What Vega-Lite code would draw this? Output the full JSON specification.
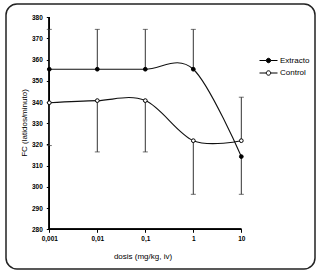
{
  "$schema": "https://vega.github.io/schema/vega-lite/v6.json",
  "width": 309,
  "height": 265,
  "autosize": {"type": "none"},
  "padding": {"left": 6, "top": 4, "right": 9, "bottom": 9},
  "background": "white",
  "config": {
    "view": {"stroke": "#222", "strokeWidth": 1.5, "cornerRadius": 11},
    "font": "Liberation Sans",
    "axis": {
      "domain": false,
      "grid": false,
      "tickColor": "black",
      "tickSize": 3,
      "labelColor": "black",
      "labelFont": "Liberation Sans",
      "labelFontWeight": "bold",
      "titleFont": "Liberation Sans",
      "titleFontWeight": "normal",
      "titleColor": "black",
      "titleFontSize": 8
    }
  },
  "data": {
    "values": [
      {"dosis": 0.001, "serie": "Extracto", "fc": 355.5, "fin": 374.3},
      {"dosis": 0.01, "serie": "Extracto", "fc": 355.5, "fin": 374.3},
      {"dosis": 0.1, "serie": "Extracto", "fc": 355.5, "fin": 374.3},
      {"dosis": 1, "serie": "Extracto", "fc": 355.5, "fin": 374.3},
      {"dosis": 10, "serie": "Extracto", "fc": 314.3, "fin": 296.5},
      {"dosis": 0.001, "serie": "Control", "fc": 339.7, "fin": 319.5},
      {"dosis": 0.01, "serie": "Control", "fc": 340.7, "fin": 316.5},
      {"dosis": 0.1, "serie": "Control", "fc": 340.7, "fin": 316.5},
      {"dosis": 1, "serie": "Control", "fc": 321.8, "fin": 296.5},
      {"dosis": 10, "serie": "Control", "fc": 321.8, "fin": 342.3}
    ]
  },
  "encoding": {
    "x": {
      "field": "dosis",
      "type": "quantitative",
      "scale": {"type": "log", "domain": [0.0001253, 342.8], "nice": false, "zero": false},
      "axis": {
        "orient": "bottom",
        "offset": -39.7,
        "values": [0.001, 0.01, 0.1, 1, 10],
        "labelExpr": "replace(format(datum.value, '~g'), '.', ',')",
        "labelFontSize": 6.5,
        "labelPadding": 3,
        "title": "dosis (mg/kg, iv)",
        "titleX": 136.5,
        "titleY": 27.4,
        "titleBaseline": "middle",
        "titleAlign": "center"
      }
    },
    "y": {
      "field": "fc",
      "type": "quantitative",
      "scale": {"domain": [261.27, 386.27], "nice": false, "zero": false},
      "axis": {
        "orient": "left",
        "offset": -43.3,
        "values": [280, 290, 300, 310, 320, 330, 340, 350, 360, 370, 380],
        "format": "d",
        "labelFontSize": 6.5,
        "labelPadding": 4,
        "title": "FC (latidos/minuto)",
        "titleX": -25,
        "titleY": 118.5,
        "titleBaseline": "middle",
        "titleAlign": "center",
        "titleAngle": -90
      }
    }
  },
  "layer": [
    {
      "mark": {"type": "rule", "color": "black", "strokeWidth": 1},
      "encoding": {
        "x": {"datum": 0.001, "type": "quantitative"},
        "y": {"datum": 280, "type": "quantitative"},
        "y2": {"datum": 380}
      }
    },
    {
      "mark": {"type": "rule", "color": "black", "strokeWidth": 1},
      "encoding": {
        "x": {"datum": 0.001, "type": "quantitative"},
        "x2": {"datum": 10},
        "y": {"datum": 280, "type": "quantitative"}
      }
    },
    {
      "mark": {"type": "rule", "color": "#333", "strokeWidth": 1},
      "encoding": {
        "y2": {"field": "fin"}
      }
    },
    {
      "mark": {"type": "tick", "orient": "horizontal", "color": "#333", "size": 5, "thickness": 1},
      "encoding": {
        "y": {"field": "fin", "type": "quantitative"}
      }
    },
    {
      "mark": {"type": "line", "interpolate": "cardinal", "strokeWidth": 1.1, "color": "#111"},
      "encoding": {
        "detail": {"field": "serie", "type": "nominal"}
      }
    },
    {
      "mark": {"type": "point", "filled": true, "stroke": "black", "strokeWidth": 1, "size": 14, "opacity": 1},
      "encoding": {
        "fill": {
          "field": "serie",
          "type": "nominal",
          "scale": {"domain": ["Extracto", "Control"], "range": ["black", "white"]},
          "legend": {
            "title": null,
            "orient": "none",
            "legendX": 256,
            "legendY": 50,
            "padding": 0,
            "rowPadding": 1.5,
            "symbolType": "M-1.5,0H-0.37A0.37,0.37,0,1,1,0.37,0A0.37,0.37,0,1,1,-0.37,0M0.37,0H1.5",
            "symbolSize": 144,
            "symbolStrokeColor": "black",
            "symbolStrokeWidth": 1,
            "symbolOpacity": 1,
            "labelOffset": 5,
            "labelFontSize": 8,
            "labelFont": "Liberation Sans",
            "labelColor": "black"
          }
        }
      }
    }
  ]
}
